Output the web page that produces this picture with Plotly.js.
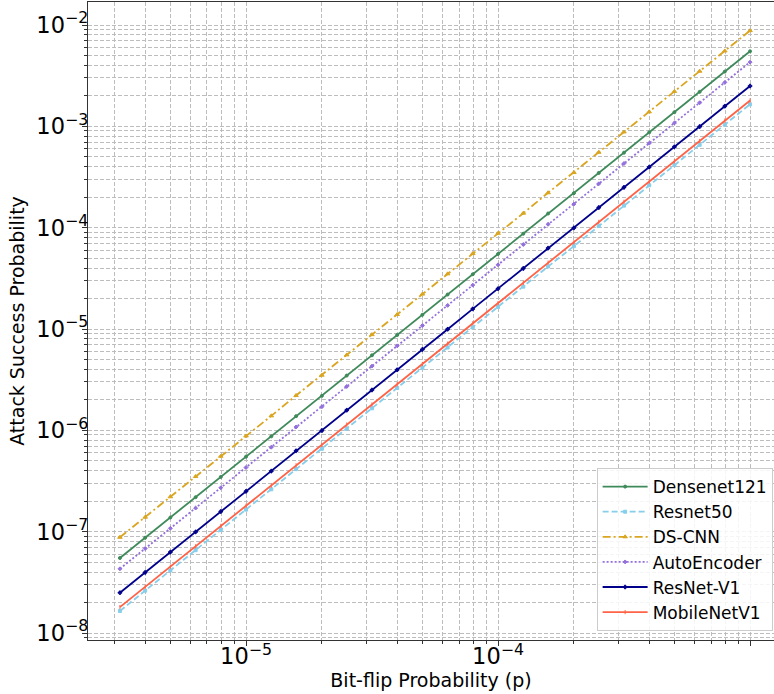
<!DOCTYPE html>
<html>
<head>
<meta charset="utf-8">
<script src="https://cdn.plot.ly/plotly-3.0.1.min.js"></script>
<style>html,body{margin:0;padding:0;background:#fff;}#chart{width:774px;height:694px;}</style>
</head>
<body>
<div id="chart"></div>
<script>
// Bit-flip probability (x values)
const bitFlip = [3.16e-6,3.98e-6,5.01e-6,6.31e-6,7.94e-6,1.00e-5,1.26e-5,1.58e-5,2.00e-5,2.51e-5,3.16e-5,3.98e-5,5.01e-5,6.31e-5,7.94e-5,1.00e-4,1.26e-4,1.58e-4,2.00e-4,2.51e-4,3.16e-4,3.98e-4,5.01e-4,6.31e-4,7.94e-4,1.00e-3];

const seriesNames = ["Densenet121","Resnet50","DS-CNN","AutoEncoder","ResNet-V1","MobileNetV1"];

const densenet121 = [5.5e-8,8.72e-8,1.38e-7,2.19e-7,3.47e-7,5.5e-7,8.72e-7,1.38e-6,2.19e-6,3.47e-6,5.5e-6,8.72e-6,1.38e-5,2.19e-5,3.47e-5,5.5e-5,8.72e-5,1.38e-4,2.19e-4,3.47e-4,5.5e-4,8.72e-4,1.38e-3,2.19e-3,3.47e-3,5.5e-3];
const resnet50 = [1.65e-8,2.62e-8,4.14e-8,6.57e-8,1.04e-7,1.65e-7,2.62e-7,4.14e-7,6.57e-7,1.04e-6,1.65e-6,2.62e-6,4.14e-6,6.57e-6,1.04e-5,1.65e-5,2.62e-5,4.14e-5,6.57e-5,1.04e-4,1.65e-4,2.62e-4,4.14e-4,6.57e-4,1.04e-3,1.65e-3];
const dsCnn = [8.8e-8,1.39e-7,2.21e-7,3.50e-7,5.55e-7,8.8e-7,1.39e-6,2.21e-6,3.50e-6,5.55e-6,8.8e-6,1.39e-5,2.21e-5,3.50e-5,5.55e-5,8.8e-5,1.39e-4,2.21e-4,3.50e-4,5.55e-4,8.8e-4,1.39e-3,2.21e-3,3.50e-3,5.55e-3,8.8e-3];
const autoEncoder = [4.3e-8,6.82e-8,1.08e-7,1.71e-7,2.71e-7,4.3e-7,6.82e-7,1.08e-6,1.71e-6,2.71e-6,4.3e-6,6.82e-6,1.08e-5,1.71e-5,2.71e-5,4.3e-5,6.82e-5,1.08e-4,1.71e-4,2.71e-4,4.3e-4,6.82e-4,1.08e-3,1.71e-3,2.71e-3,4.3e-3];
const resnetV1 = [2.5e-8,3.96e-8,6.28e-8,9.95e-8,1.58e-7,2.5e-7,3.96e-7,6.28e-7,9.95e-7,1.58e-6,2.5e-6,3.96e-6,6.28e-6,9.95e-6,1.58e-5,2.5e-5,3.96e-5,6.28e-5,9.95e-5,1.58e-4,2.5e-4,3.96e-4,6.28e-4,9.95e-4,1.58e-3,2.5e-3];
const mobileNetV1 = [1.8e-8,2.85e-8,4.52e-8,7.17e-8,1.14e-7,1.8e-7,2.85e-7,4.52e-7,7.17e-7,1.14e-6,1.8e-6,2.85e-6,4.52e-6,7.17e-6,1.14e-5,1.8e-5,2.85e-5,4.52e-5,7.17e-5,1.14e-4,1.8e-4,2.85e-4,4.52e-4,7.17e-4,1.14e-3,1.8e-3];

const seriesValues = [densenet121, resnet50, dsCnn, autoEncoder, resnetV1, mobileNetV1];
const colors = ["#3f8a5a","#87ceeb","#daa520","#9370db","#00008b","#ff6347"];
const dashes = ["solid","6px,3px","8px,3px,2px,3px","2px,2px","solid","solid"];
const symbols = ["circle","square","triangle-up","diamond","cross","line-ns-open"];
const msizes = [3,3,4,3,3,3];

const traces = seriesNames.map((n,i)=>({
  x: bitFlip, y: seriesValues[i], name: n, type: 'scatter', mode: 'lines+markers',
  line: {color: colors[i], width: 1.8, dash: dashes[i]},
  marker: {color: colors[i], size: msizes[i], symbol: symbols[i], line:{color: colors[i], width:1}}
}));

const gridC = "#bdbdbd";
const gdash = "4px,2px";
const layout = {
  width: 774, height: 694,
  margin: {l: 88, r: 0, t: 2, b: 54},
  paper_bgcolor: "#fff", plot_bgcolor: "#fff",
  font: {family: "DejaVu Sans", color: "#000"},
  showlegend: true,
  xaxis: {
    type: 'log', range: [-5.627, -2.905], dtick: 1, exponentformat: 'power',
    showline: true, linecolor: "#333", linewidth: 1.2, mirror: true,
    ticks: 'outside', ticklen: 5, tickcolor: "#333", ticklabelstandoff: -8,
    tickfont: {size: 18, family: "DejaVu Sans"},
    showgrid: true, gridcolor: gridC, griddash: gdash, gridwidth: 1,
    minor: {dtick: 'D1', ticks: 'outside', ticklen: 3, tickcolor: "#333", showgrid: true, gridcolor: gridC, griddash: gdash, gridwidth: 1},
    title: {text: "Bit-flip Probability (p)", font: {size: 19, family: "DejaVu Sans"}, standoff: 2},
    zeroline: false, automargin: false
  },
  yaxis: {
    type: 'log', range: [-8.069, -1.773], dtick: 1, exponentformat: 'power',
    showline: true, linecolor: "#333", linewidth: 1.2, mirror: false,
    ticks: 'outside', ticklen: 5, tickcolor: "#333", ticklabelstandoff: -10,
    tickfont: {size: 18, family: "DejaVu Sans"},
    showgrid: true, gridcolor: gridC, griddash: gdash, gridwidth: 1,
    minor: {dtick: 'D1', ticks: 'outside', ticklen: 3, tickcolor: "#333", showgrid: true, gridcolor: gridC, griddash: gdash, gridwidth: 1},
    title: {text: "Attack Success Probability", font: {size: 19, family: "DejaVu Sans"}, standoff: 6},
    zeroline: false, automargin: false
  },
  legend: {
    x: 0.998, xanchor: 'right', y: 0.014, yanchor: 'bottom',
    bgcolor: "rgba(255,255,255,0.85)", bordercolor: "#cccccc", borderwidth: 1,
    font: {size: 17, family: "DejaVu Sans"}, itemwidth: 45
  }
};

Plotly.newPlot('chart', traces, layout, {displayModeBar: false, staticPlot: true});
</script>
</body>
</html>
